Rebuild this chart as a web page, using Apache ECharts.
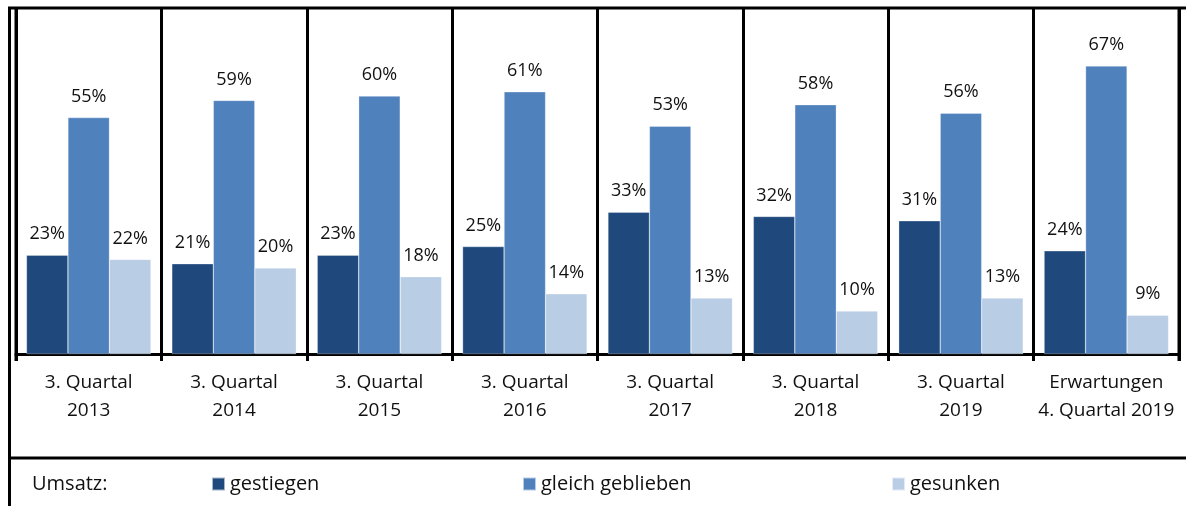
<!DOCTYPE html>
<html>
<head>
<meta charset="utf-8">
<script src="https://cdn.jsdelivr.net/npm/echarts@6/dist/echarts.min.js"></script>
<style>
html,body{margin:0;padding:0;background:#fff;}
#c{width:1186px;height:506px;}
</style>
</head>
<body>
<div id="c"></div>
<script>
const categories = ['3. Quartal\n2013','3. Quartal\n2014','3. Quartal\n2015','3. Quartal\n2016','3. Quartal\n2017','3. Quartal\n2018','3. Quartal\n2019','Erwartungen\n4. Quartal 2019'];
const seriesNames = ['gestiegen','gleich geblieben','gesunken'];
const gestiegen = [23,21,23,25,33,32,31,24];
const gleichGeblieben = [55,59,60,61,53,58,56,67];
const gesunken = [22,20,18,14,13,10,13,9];
const colors = ['#1F497D','#4F81BD','#B9CDE5'];

const FONT = '"Open Sans", "Noto Sans", sans-serif';
const chart = echarts.init(document.getElementById('c'));

function mkSeries(name, data, color){
  return {
    name: name, type: 'bar', data: data,
    barGap: '0%', barCategoryGap: '14.4%',
    itemStyle: {color: color, borderColor: 'rgba(255,255,255,0.6)', borderWidth: 0.5},
    label: {show: true, position: 'top', distance: 12, formatter: '{c}%',
      color: '#111', fontSize: 18, fontFamily: FONT},
    emphasis: {disabled: true}
  };
}

function mkLegend(name, left){
  return {
    data: [name], left: left, top: 474, padding: 0, icon: 'rect',
    itemWidth: 13, itemHeight: 13, itemGap: 0,
    textStyle: {fontSize: 20, fontFamily: FONT, color: '#111', padding: [0,0,0,0]},
    selectedMode: false
  };
}

const lineStyle = {stroke: '#000', lineWidth: 3};
chart.setOption({
  animation: false,
  color: colors,
  title: {text: 'Umsatz:', left: 32, top: 474, padding: 0,
    textStyle: {fontSize: 20, fontWeight: 'normal', fontFamily: FONT, color: '#111'}},
  legend: [mkLegend(seriesNames[0], 211), mkLegend(seriesNames[1], 522), mkLegend(seriesNames[2], 891)],
  grid: {left: 16, right: 7, top: 8, bottom: 152},
  xAxis: {
    type: 'category', data: categories,
    axisLine: {show: true, lineStyle: {color: '#000', width: 3}},
    axisTick: {show: true, length: 7, lineStyle: {color: '#000', width: 3}},
    splitLine: {show: true, lineStyle: {color: '#000', width: 3}},
    axisLabel: {color: '#111', fontSize: 19, fontFamily: FONT, lineHeight: 28, margin: 15, interval: 0}
  },
  yAxis: {type: 'value', min: 0, max: 80.5, show: false, splitLine: {show: false}},
  series: [
    mkSeries(seriesNames[0], gestiegen, colors[0]),
    mkSeries(seriesNames[1], gleichGeblieben, colors[1]),
    mkSeries(seriesNames[2], gesunken, colors[2])
  ],
  graphic: [
    {type: 'line', shape: {x1: 8, y1: 8, x2: 1186, y2: 8}, style: lineStyle, silent: true},
    {type: 'line', shape: {x1: 9.5, y1: 8, x2: 9.5, y2: 506}, style: lineStyle, silent: true},
    {type: 'line', shape: {x1: 16, y1: 8, x2: 16, y2: 361}, style: lineStyle, silent: true},
    {type: 'line', shape: {x1: 1179, y1: 8, x2: 1179, y2: 361}, style: lineStyle, silent: true},
    {type: 'line', shape: {x1: 8, y1: 458, x2: 1186, y2: 458}, style: lineStyle, silent: true}
  ]
});
</script>
</body>
</html>
